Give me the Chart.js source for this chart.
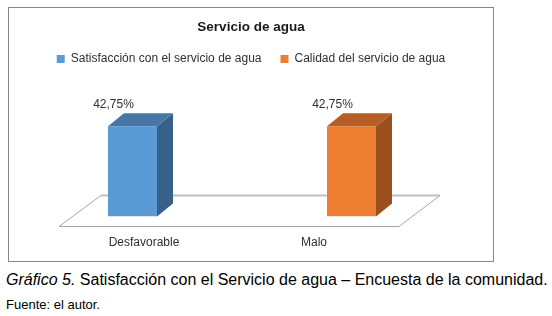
<!DOCTYPE html>
<html>
<head>
<meta charset="utf-8">
<script src="https://cdn.jsdelivr.net/npm/chart.js@4.4.1/dist/chart.umd.min.js"></script>
<style>
  body { margin: 0; background: #fff; width: 552px; height: 316px; overflow: hidden; position: relative; font-family: "Liberation Sans", Arial, sans-serif; }
  #box { position: absolute; left: 8px; top: 7px; width: 484px; height: 253px; border: 1px solid #868686; }
  #box canvas { display: block; }
  #caption { position: absolute; left: 6px; top: 272px; font-size: 16px; line-height: 16px; white-space: nowrap; color: #000; }
  #source { position: absolute; left: 6px; top: 298px; font-size: 13px; line-height: 13px; white-space: nowrap; color: #000; }
</style>
</head>
<body>
<div id="box"><canvas id="chart" width="484" height="253"></canvas></div>
<div id="caption"><i>Gráfico 5.</i> Satisfacción con el Servicio de agua – Encuesta de la comunidad.</div>
<div id="source">Fuente: el autor.</div>
<script>
const categories = ['Desfavorable', 'Malo'];
const seriesNames = ['Satisfacción con el servicio de agua', 'Calidad del servicio de agua'];
const satisfaccion = [42.75, null];
const calidad = [null, 42.75];

const frontColors = ['#5B9BD5', '#ED7D31'];
const topColors = ['#4677A6', '#B55F25'];
const sideColors = ['#38618A', '#9A4F1D'];
const textColor = '#303030';

Chart.defaults.font.family = '"Liberation Sans", Arial, sans-serif';

// fake 3d: floor under the bars, then side/top faces and value labels
const fake3d = {
  id: 'fake3d',
  beforeDatasetsDraw(chart) {
    const { ctx, chartArea } = chart;
    const base = chart.scales.y.getPixelForValue(0);
    const fy = Math.round(base + 9) + 0.5;
    const by = Math.round(base - 22) + 0.5;
    const fl = chartArea.left - 13, fr = chartArea.right - 13;
    const bl = chartArea.left + 29, br = chartArea.right + 28;
    ctx.save();
    ctx.strokeStyle = '#A6A6A6';
    ctx.lineWidth = 1;
    ctx.beginPath();
    ctx.moveTo(bl, by);
    ctx.lineTo(fl, fy);
    ctx.lineTo(fr, fy);
    ctx.lineTo(br, by);
    ctx.stroke();
    ctx.strokeStyle = '#BFBFBF';
    ctx.lineWidth = 2;
    ctx.beginPath();
    ctx.moveTo(bl, by);
    ctx.lineTo(br, by);
    ctx.stroke();
    ctx.restore();
  },
  afterDatasetsDraw(chart) {
    const { ctx } = chart;
    const dx = 16, dy = 13;
    ctx.save();
    chart.data.datasets.forEach((ds, i) => {
      chart.getDatasetMeta(i).data.forEach((bar, j) => {
        const v = ds.data[j];
        if (v === null) return;
        const { x, y, base, width } = bar.getProps(['x', 'y', 'base', 'width'], true);
        const l = x - width / 2, r = x + width / 2;
        ctx.fillStyle = sideColors[i];
        ctx.beginPath();
        ctx.moveTo(r, y);
        ctx.lineTo(r + dx, y - dy);
        ctx.lineTo(r + dx, base - dy);
        ctx.lineTo(r, base);
        ctx.closePath();
        ctx.fill();
        ctx.fillStyle = topColors[i];
        ctx.beginPath();
        ctx.moveTo(l, y);
        ctx.lineTo(l + dx, y - dy);
        ctx.lineTo(r + dx, y - dy);
        ctx.lineTo(r, y);
        ctx.closePath();
        ctx.fill();
        ctx.fillStyle = textColor;
        ctx.font = '12px "Liberation Sans", Arial, sans-serif';
        ctx.textAlign = 'center';
        ctx.textBaseline = 'middle';
        ctx.fillText(v.toFixed(2).replace('.', ',') + '%', x - 19, y - 22);
      });
    });
    ctx.restore();
  }
};

new Chart(document.getElementById('chart'), {
  type: 'bar',
  data: {
    labels: categories,
    datasets: [
      { label: seriesNames[0], data: satisfaccion, backgroundColor: frontColors[0] },
      { label: seriesNames[1], data: calidad, backgroundColor: frontColors[1] },
    ],
  },
  options: {
    responsive: false,
    animation: false,
    devicePixelRatio: 1,
    categoryPercentage: 0.5765,
    barPercentage: 1,
    layout: { padding: { top: 0, bottom: 11, left: 0, right: 0 } },
    plugins: {
      title: {
        display: true,
        text: 'Servicio de agua',
        color: '#1a1a1a',
        font: { size: 13.5, weight: 'bold', lineHeight: 1 },
        padding: { top: 12.5, bottom: 0 },
      },
      legend: {
        display: true,
        position: 'top',
        labels: { boxWidth: 8, boxHeight: 8, padding: 19, color: textColor, font: { size: 12 } },
      },
      tooltip: { enabled: false },
    },
    scales: {
      x: {
        grid: { display: false, drawTicks: false },
        border: { display: false },
        ticks: { padding: 19, labelOffset: -13, color: textColor, font: { size: 12 } },
        afterFit: (s) => { s.height = 33.4; },
      },
      y: {
        min: 0,
        max: 67,
        grid: { display: false, drawTicks: false },
        border: { display: false },
        ticks: { display: false },
        afterFit: (s) => { s.width = 63; },
      },
      y2: {
        type: 'linear',
        position: 'right',
        grid: { display: false, drawTicks: false },
        border: { display: false },
        ticks: { display: false },
        afterFit: (s) => { s.width = 81; },
      },
    },
  },
  plugins: [fake3d],
});
</script>
</body>
</html>
